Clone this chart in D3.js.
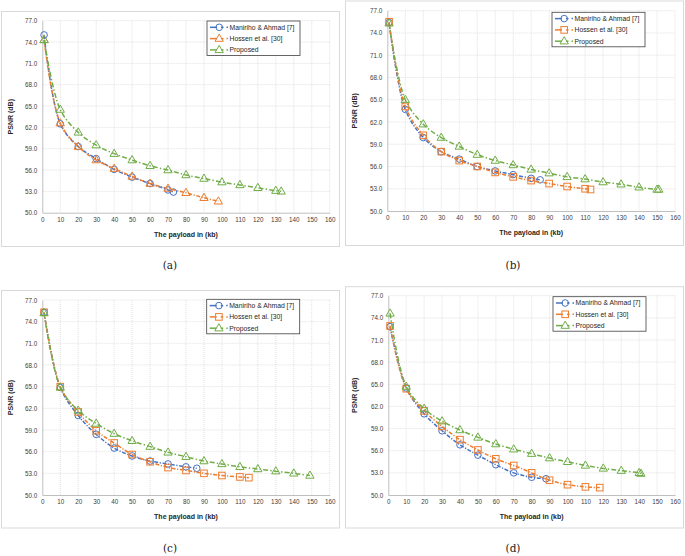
<!DOCTYPE html>
<html>
<head>
<meta charset="utf-8">
<script src="https://cdn.jsdelivr.net/npm/d3@7"></script>
<style>
  body { margin: 0; background: #fff; }
  svg { display: block; }
</style>
</head>
<body>
<svg id="chart" width="685" height="556"></svg>
<script>
// ---- data ----
var seriesNames = ["Maniriho & Ahmad [7]", "Hossen et al. [30]", "Proposed"];
var panelLabels = ["(a)", "(b)", "(c)", "(d)"];
var xTicks = [0, 10, 20, 30, 40, 50, 60, 70, 80, 90, 100, 110, 120, 130, 140, 150, 160];
var yTicks = [50, 53, 56, 59, 62, 65, 68, 71, 74, 77];

var a_maniriho_x = [1, 10, 20, 30, 40, 50, 60, 70, 73];
var a_maniriho_y = [75.0, 62.5, 59.3, 57.6, 56.1, 55.0, 54.1, 53.2, 52.9];
var a_hossen_x = [1, 10, 20, 30, 40, 50, 60, 70, 80, 90, 98];
var a_hossen_y = [74.3, 62.6, 59.3, 57.4, 56.2, 55.1, 54.1, 53.4, 52.8, 52.1, 51.6];
var a_proposed_x = [1, 10, 20, 30, 40, 50, 60, 70, 80, 90, 100, 110, 120, 130, 133];
var a_proposed_y = [74.3, 64.5, 61.3, 59.5, 58.3, 57.4, 56.6, 56.0, 55.3, 54.8, 54.3, 53.9, 53.5, 53.1, 53.0];

var b_maniriho_x = [1, 10, 20, 30, 40, 50, 60, 70, 80, 85];
var b_maniriho_y = [75.4, 63.7, 59.9, 58.0, 57.0, 56.0, 55.4, 54.9, 54.4, 54.2];
var b_hossen_x = [1, 10, 20, 30, 40, 50, 60, 70, 80, 90, 100, 110, 113];
var b_hossen_y = [75.5, 64.1, 60.2, 58.0, 56.8, 56.0, 55.2, 54.6, 54.1, 53.7, 53.3, 53.0, 52.9];
var b_proposed_x = [1, 10, 20, 30, 40, 50, 60, 70, 80, 90, 100, 110, 120, 130, 140, 150, 151];
var b_proposed_y = [75.3, 65.0, 61.7, 59.9, 58.7, 57.6, 56.8, 56.2, 55.6, 55.1, 54.6, 54.3, 53.9, 53.6, 53.2, 52.9, 52.9];

var c_maniriho_x = [1, 10, 20, 30, 40, 50, 60, 70, 80, 86];
var c_maniriho_y = [75.3, 64.9, 61.0, 58.4, 56.5, 55.4, 54.7, 54.3, 53.9, 53.7];
var c_hossen_x = [1, 10, 20, 30, 40, 50, 60, 70, 80, 90, 100, 110, 115];
var c_hossen_y = [75.3, 65.0, 61.5, 58.9, 57.2, 55.6, 54.6, 53.8, 53.4, 53.0, 52.7, 52.5, 52.4];
var c_proposed_x = [1, 10, 20, 30, 40, 50, 60, 70, 80, 90, 100, 110, 120, 130, 140, 149];
var c_proposed_y = [75.2, 64.9, 61.7, 59.9, 58.5, 57.5, 56.7, 55.9, 55.3, 54.7, 54.3, 53.9, 53.6, 53.3, 53.0, 52.7];

var d_maniriho_x = [1, 10, 20, 30, 40, 50, 60, 70, 80, 88];
var d_maniriho_y = [72.8, 64.5, 61.0, 58.7, 56.8, 55.4, 54.1, 53.0, 52.4, 52.2];
var d_hossen_x = [1, 10, 20, 30, 40, 50, 60, 70, 80, 90, 100, 110, 118];
var d_hossen_y = [72.9, 64.4, 61.4, 59.3, 57.5, 56.1, 54.9, 54.0, 53.0, 52.0, 51.4, 51.1, 51.0];
var d_proposed_x = [1, 10, 20, 30, 40, 50, 60, 70, 80, 90, 100, 110, 120, 130, 140, 141];
var d_proposed_y = [74.6, 64.7, 61.7, 60.0, 58.8, 57.8, 56.9, 56.2, 55.6, 55.0, 54.5, 54.0, 53.6, 53.3, 53.0, 52.9];

// ---- layout / style ----
var colors = ["#4472C4", "#ED7D31", "#70AD47"];
var dashes = ["4,1.6,1.2,1.6", "4,1.6,1.2,1.6", "5,2.2,1.4,2.2"];

// frame box, plot box, legend box, label position per panel
var panels = [
  { frame: [1.5, 11.5, 338, 235], plot: [42.3, 20.7, 329.7, 212.7], legend: [207, 21], label: [170, 265],
    series: [[a_maniriho_x, a_maniriho_y], [a_hossen_x, a_hossen_y], [a_proposed_x, a_proposed_y]],
    markers: ["circle", "triangle", "triangle"] },
  { frame: [345.5, 1, 338, 244.5], plot: [387.3, 10.7, 675, 211], legend: [552, 12.3], label: [513, 265],
    series: [[b_maniriho_x, b_maniriho_y], [b_hossen_x, b_hossen_y], [b_proposed_x, b_proposed_y]],
    markers: ["circle", "square", "triangle"] },
  { frame: [1.5, 290.5, 338, 237.5], plot: [42.3, 300, 329.7, 495], legend: [206.7, 299.3], label: [170, 548],
    series: [[c_maniriho_x, c_maniriho_y], [c_hossen_x, c_hossen_y], [c_proposed_x, c_proposed_y]],
    markers: ["circle", "square", "triangle"] },
  { frame: [345.5, 286.7, 338, 241.3], plot: [388.3, 295.7, 675, 495], legend: [553, 296.7], label: [513, 548],
    series: [[d_maniriho_x, d_maniriho_y], [d_hossen_x, d_hossen_y], [d_proposed_x, d_proposed_y]],
    markers: ["circle", "square", "triangle"] }
];

var svg = d3.select("#chart");
var font = "'Liberation Sans', Arial, sans-serif";

function drawMarker(g, type, x, y, color) {
  var m;
  if (type === "circle") {
    m = g.append("circle").attr("cx", x).attr("cy", y).attr("r", 3.3);
  } else if (type === "square") {
    m = g.append("rect").attr("x", x - 3.3).attr("y", y - 3.3).attr("width", 6.6).attr("height", 6.6);
  } else {
    m = g.append("path").attr("d", d3.symbol(d3.symbolTriangle, 30)()).attr("transform", "translate(" + x + "," + (y + 0.3) + ")");
  }
  m.attr("fill", "none").attr("stroke", color).attr("stroke-width", 1);
}

panels.forEach(function (p, pi) {
  var g = svg.append("g");

  g.append("rect")
    .attr("x", p.frame[0]).attr("y", p.frame[1])
    .attr("width", p.frame[2]).attr("height", p.frame[3])
    .attr("fill", "#fff").attr("stroke", "#d9d9d9").attr("stroke-width", 1);

  var x = d3.scaleLinear().domain([0, 160]).range([p.plot[0], p.plot[2]]);
  var y = d3.scaleLinear().domain([50, 77]).range([p.plot[3], p.plot[1]]);

  // gridlines
  g.append("g")
    .selectAll("line.v")
    .data(xTicks.slice(1))
    .join("line")
    .attr("x1", d => x(d)).attr("x2", d => x(d))
    .attr("y1", y(77)).attr("y2", y(50))
    .attr("stroke", "#d9d9d9").attr("stroke-width", 0.8).attr("stroke-dasharray", "1,1");
  g.append("g")
    .selectAll("line.h")
    .data(yTicks.slice(1))
    .join("line")
    .attr("x1", x(0)).attr("x2", x(160))
    .attr("y1", d => y(d)).attr("y2", d => y(d))
    .attr("stroke", "#d9d9d9").attr("stroke-width", 0.8).attr("stroke-dasharray", "1,1");

  // axes
  var xAxis = g.append("g")
    .attr("transform", "translate(0," + y(50) + ")")
    .call(d3.axisBottom(x).tickValues(xTicks).tickSize(0).tickPadding(5));
  var yAxis = g.append("g")
    .attr("transform", "translate(" + x(0) + ",0)")
    .call(d3.axisLeft(y).tickValues(yTicks).tickSize(0).tickPadding(5).tickFormat(d3.format(".1f")));
  [xAxis, yAxis].forEach(function (a) {
    a.select(".domain").attr("stroke", "#bfbfbf").attr("stroke-width", 1);
    a.selectAll("text").attr("font-family", font).attr("font-size", 6.3).attr("fill", "#404040");
  });

  // axis titles
  g.append("text")
    .attr("x", (p.plot[0] + p.plot[2]) / 2).attr("y", p.plot[3] + 24)
    .attr("text-anchor", "middle")
    .attr("font-family", font).attr("font-size", 7).attr("font-weight", "bold").attr("fill", "#262626")
    .text("The payload in (kb)");
  g.append("text")
    .attr("transform", "translate(" + (p.frame[0] + 11) + "," + ((p.plot[1] + p.plot[3]) / 2) + ") rotate(-90)")
    .attr("text-anchor", "middle")
    .attr("font-family", font).attr("font-size", 7).attr("font-weight", "bold").attr("fill", "#262626")
    .text("PSNR (dB)");

  // series
  var line = d3.line()
    .x(d => x(d[0]))
    .y(d => y(d[1]))
    .curve(d3.curveCatmullRom.alpha(0.5));

  p.series.forEach(function (s, si) {
    var pts = s[0].map((v, i) => [v, s[1][i]]);
    g.append("path")
      .attr("d", line(pts))
      .attr("fill", "none")
      .attr("stroke", colors[si])
      .attr("stroke-width", 1.5)
      .attr("stroke-dasharray", dashes[si]);
    var mg = g.append("g");
    pts.forEach(function (d) {
      drawMarker(mg, p.markers[si], x(d[0]), y(d[1]), colors[si]);
    });
  });

  // legend
  var lg = g.append("g").attr("transform", "translate(" + p.legend[0] + "," + p.legend[1] + ")");
  lg.append("rect")
    .attr("width", 93).attr("height", 34.5)
    .attr("fill", "#fff").attr("stroke", "#404040").attr("stroke-width", 0.8);
  seriesNames.forEach(function (name, si) {
    var ly = 6.3 + si * 11.3;
    lg.append("line")
      .attr("x1", 3).attr("x2", 10)
      .attr("y1", ly).attr("y2", ly)
      .attr("stroke", colors[si]).attr("stroke-width", 1.5);
    lg.append("line")
      .attr("x1", 14).attr("x2", 16.5)
      .attr("y1", ly).attr("y2", ly)
      .attr("stroke", colors[si]).attr("stroke-width", 1.5);
    lg.append("line")
      .attr("x1", 19.5).attr("x2", 21)
      .attr("y1", ly).attr("y2", ly)
      .attr("stroke", colors[si]).attr("stroke-width", 1.5);
    drawMarker(lg, p.markers[si], 12.2, ly, colors[si]);
    lg.append("text")
      .attr("x", 22.5).attr("y", ly + 2.4)
      .attr("font-family", font).attr("font-size", 6.8).attr("fill", "#262626")
      .text(name);
  });

  // panel label
  svg.append("text")
    .attr("x", p.label[0]).attr("y", p.label[1] + 4)
    .attr("text-anchor", "middle")
    .attr("font-family", "'DejaVu Serif', 'Liberation Serif', serif")
    .attr("font-size", 10.5).attr("fill", "#222")
    .text(panelLabels[pi]);
});
</script>
</body>
</html>
